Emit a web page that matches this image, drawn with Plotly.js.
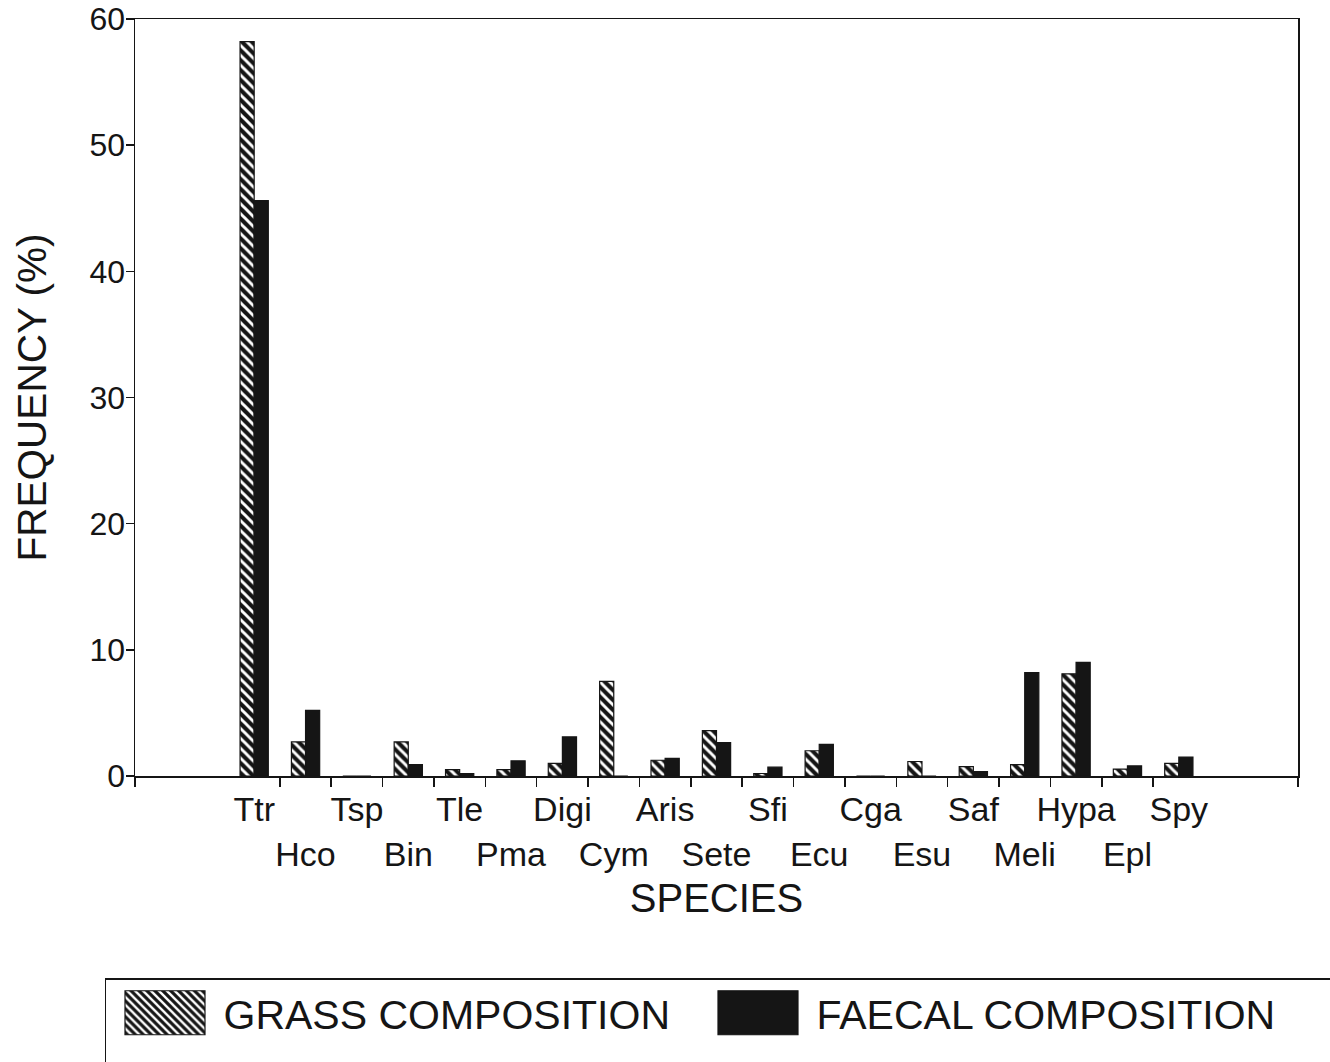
<!DOCTYPE html>
<html>
<head>
<meta charset="utf-8">
<script src="https://cdn.plot.ly/plotly-3.0.1.min.js"></script>
<style>html,body{margin:0;padding:0;background:#fff;}</style>
</head>
<body>
<div id="chart" style="width:1330px;height:1062px;"></div>
<script>
// ---- data ----
const species = ['Ttr','Hco','Tsp','Bin','Tle','Pma','Digi','Cym','Aris','Sete','Sfi','Ecu','Cga','Esu','Saf','Meli','Hypa','Epl','Spy'];
const grassComposition = [58.2, 2.7, 0, 2.7, 0.5, 0.5, 1.0, 7.5, 1.25, 3.6, 0.2, 2.0, 0, 1.15, 0.75, 0.9, 8.1, 0.55, 1.0];
const faecalComposition = [45.6, 5.2, 0, 0.9, 0.2, 1.2, 3.1, 0, 1.4, 2.65, 0.7, 2.5, 0, 0, 0.35, 8.2, 9.0, 0.8, 1.5];
const seriesNames = ['GRASS COMPOSITION', 'FAECAL COMPOSITION'];
const yTicks = [0, 10, 20, 30, 40, 50, 60];

// labels alternate between two rows
const tickLabels = species.map((s, i) => (i % 2 === 0 ? s : '<br>' + s));
// tick marks sit on the boundaries between categories
const boundaryTicks = species.slice(1).map((s, i) => i + 0.5);

const ink = '#151515';
const font = 'Liberation Sans, Arial, Helvetica, sans-serif';
const xRange = [-2.32, 20.32];

const traces = [
  {
    type: 'bar', name: seriesNames[0], x: species, y: grassComposition,
    marker: {
      color: ink,
      line: {color: ink, width: 1.2},
      pattern: {shape: '\\', fgcolor: '#ffffff', bgcolor: ink, fillmode: 'replace', size: 7, solidity: 0.42}
    },
    hoverinfo: 'x+y'
  },
  {
    type: 'bar', name: seriesNames[1], x: species, y: faecalComposition,
    marker: {color: ink, line: {color: ink, width: 1.2}},
    hoverinfo: 'x+y'
  },
  {
    type: 'scatter', x: [null], y: [null], xaxis: 'x2', yaxis: 'y',
    showlegend: false, hoverinfo: 'skip', mode: 'markers'
  }
];

const layout = {
  width: 1330, height: 1062,
  paper_bgcolor: '#ffffff', plot_bgcolor: '#ffffff',
  font: {family: font, color: ink},
  margin: {l: 135, r: 32, t: 19, b: 286, autoexpand: false},
  barmode: 'group', bargap: 0.45, bargroupgap: 0,
  showlegend: true,
  xaxis: {
    type: 'category', range: xRange,
    tickmode: 'array', tickvals: species, ticktext: tickLabels, tickangle: 0,
    ticks: '', tickfont: {size: 34, family: font, color: ink}, ticklabelstandoff: 3,
    showline: true, mirror: true, linecolor: ink, linewidth: 1.5,
    showgrid: false, zeroline: false,
    title: {text: 'SPECIES', font: {size: 40, family: font, color: ink}, standoff: 12}
  },
  xaxis2: {
    type: 'linear', overlaying: 'x', anchor: 'y', side: 'bottom', range: xRange,
    tickmode: 'array', tickvals: boundaryTicks.concat(xRange),
    ticks: 'outside', ticklen: 10, tickwidth: 1.5, tickcolor: ink,
    showticklabels: false, showline: false, showgrid: false, zeroline: false
  },
  yaxis: {
    range: [0, 60], tickmode: 'array', tickvals: yTicks,
    ticks: 'outside', ticklen: 8, tickwidth: 1.5, tickcolor: ink,
    tickfont: {size: 32, family: font, color: ink}, ticklabelstandoff: -6,
    showline: true, mirror: true, linecolor: ink, linewidth: 1.5,
    showgrid: false, zeroline: false,
    title: {text: 'FREQUENCY (%)', font: {size: 40.5, family: font, color: ink}, standoff: 30}
  },
  legend: {
    orientation: 'h', x: -0.0258, xanchor: 'left', y: -0.267, yanchor: 'top',
    bgcolor: '#ffffff', bordercolor: ink, borderwidth: 1.5,
    font: {size: 41, family: font, color: ink},
    itemwidth: 107, entrywidth: 471, entrywidthmode: 'pixels', traceorder: 'normal'
  }
};

Plotly.newPlot('chart', traces, layout, {displayModeBar: false, staticPlot: true}).then(function (gd) {
  // enlarge legend swatches to match the reference's big rectangles
  gd.querySelectorAll('.legend .legendpoints path').forEach(function (p) {
    p.setAttribute('d', 'M40,22H-40V-22H40Z');
  });
  // the reference's legend frame runs past the right and bottom edges of the picture
  gd.querySelectorAll('.legend rect.bg').forEach(function (r) {
    r.setAttribute('width', '1300');
    r.setAttribute('height', '160');
  });
});
</script>
</body>
</html>
